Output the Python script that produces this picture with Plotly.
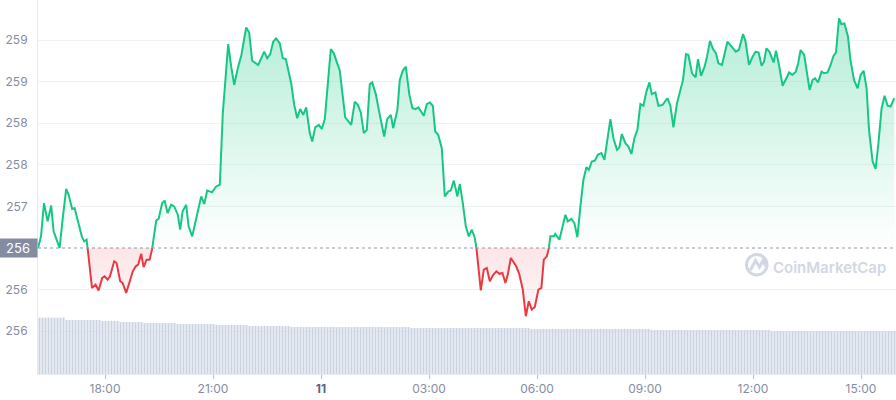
import pandas as pd
import plotly.graph_objects as go

# ---------------- data ----------------
start_time = "2023-06-10 16:08:20"

# minutes after start_time
minutes = [
    0, 5, 10, 16, 22, 26, 31, 36, 41, 47, 51, 57, 61, 66, 73, 77, 81, 83, 90, 96,
    101, 107, 111, 116, 120, 127, 131, 137, 141, 147, 153, 158, 163, 167, 172, 176, 181, 186, 190, 197,
    201, 207, 211, 216, 222, 227, 233, 237, 241, 247, 251, 257, 262, 268, 272, 277, 282, 286,
    290, 297, 303, 308, 317, 322, 327, 333, 339, 347, 352, 357, 367, 372, 377, 382, 387, 392, 397, 403,
    408, 413, 417, 422, 427, 432, 437, 442, 447, 453, 457, 462, 468, 473, 478, 483, 488, 493, 503, 512,
    517, 522, 528, 533, 538, 543, 548, 553, 557, 563, 568, 573,
    577, 582, 588, 592, 599, 603, 608, 613, 619, 624, 629, 634, 638, 643, 648, 653, 658, 662, 667, 673,
    678, 684, 688, 693, 699, 703, 708, 713, 718, 723, 728, 731, 738, 743, 748, 753, 759, 764, 769, 774,
    779, 783, 788, 797, 802, 808, 813, 818, 823, 828, 834, 839, 843, 848, 851, 854, 860,
    862, 869, 873, 879, 883, 889, 894, 899, 904, 909, 914, 918, 923, 928, 933, 939, 944, 948, 954, 959,
    965, 969, 973, 979, 984, 989, 994, 999, 1004, 1009, 1014, 1019, 1023, 1029, 1034, 1041, 1049, 1054, 1059, 1065,
    1071, 1075, 1080, 1084, 1090, 1096, 1100, 1105, 1111, 1115, 1120, 1125, 1130, 1134, 1140,
    1149, 1156, 1163, 1168, 1175, 1179, 1185, 1191, 1196, 1201, 1206, 1210, 1214, 1219, 1226, 1230, 1235, 1241, 1246, 1252,
    1257, 1263, 1267, 1271, 1277, 1282, 1286, 1291, 1295, 1300, 1306, 1310, 1316, 1321, 1326, 1330, 1335, 1339, 1344, 1350,
    1354, 1360, 1366, 1371, 1376, 1381, 1385, 1391, 1396, 1401, 1406, 1411, 1416, 1421, 1427,
]

prices = [
    256.50, 256.64, 257.04, 256.82, 257.01, 256.70, 256.60, 256.50, 256.84, 257.21,
    257.14, 256.97, 256.98, 256.84, 256.64, 256.58, 256.60, 256.48, 256.02, 256.06,
    255.99, 256.14, 256.16, 256.12, 256.16, 256.34, 256.32, 256.10, 256.08, 255.96,
    256.12, 256.22, 256.28, 256.30, 256.43, 256.27, 256.36, 256.36, 256.48, 256.83,
    256.85, 257.04, 257.07, 256.92, 257.02, 257.00, 256.90, 256.72, 256.94, 257.02,
    256.76, 256.64, 256.80, 257.02, 257.12, 257.03, 257.19, 257.18,
    257.17, 257.24, 257.26, 258.12, 258.95, 258.68, 258.46, 258.66, 258.82, 259.15,
    259.09, 258.75, 258.70, 258.78, 258.86, 258.78, 258.83, 258.98, 259.02, 258.96,
    258.78, 258.77, 258.62, 258.48, 258.22, 258.06, 258.17, 258.10, 258.19, 257.88,
    257.78, 257.95, 257.98, 257.93, 258.05, 258.52, 258.89, 258.84, 258.63, 258.07,
    258.03, 257.98, 258.26, 258.22, 258.13, 257.88, 257.92, 258.47, 258.49, 258.35,
    258.16, 257.97,
    257.84, 258.05, 258.10, 257.94, 258.16, 258.52, 258.63, 258.68, 258.34, 258.18,
    258.17, 258.19, 258.15, 258.09, 258.23, 258.25, 258.21, 257.90, 257.86, 257.70,
    257.12, 257.18, 257.19, 257.31, 257.12, 257.27, 257.04, 256.76, 256.64, 256.72,
    256.62, 256.48, 255.99, 256.24, 256.26, 256.10, 256.18, 256.22, 256.19, 256.20,
    256.08, 256.18, 256.38, 256.28, 256.19, 256.00, 255.68, 255.86, 255.76, 255.79,
    256.00, 256.02, 256.36, 256.40, 256.48, 256.64, 256.64,
    256.67, 256.60, 256.72, 256.90, 256.82, 256.85, 256.80, 256.63, 257.00, 257.32,
    257.47, 257.44, 257.54, 257.55, 257.62, 257.64, 257.56, 257.75, 258.05, 257.82,
    257.68, 257.71, 257.87, 257.76, 257.72, 257.63, 257.82, 257.92, 258.23, 258.21,
    258.38, 258.49, 258.35, 258.37, 258.21, 258.22, 258.30, 258.21, 257.95, 258.24,
    258.42, 258.52, 258.83, 258.82, 258.60, 258.55, 258.77, 258.57, 258.68, 258.80,
    258.99, 258.89, 258.84, 258.72, 258.70,
    258.98, 258.92, 258.86, 258.88, 259.07, 258.99, 258.70, 258.80, 258.86, 258.85,
    258.69, 258.74, 258.90, 258.86, 258.73, 258.87, 258.70, 258.45, 258.53, 258.61,
    258.58, 258.62, 258.72, 258.88, 258.82, 258.58, 258.40, 258.52, 258.54, 258.49,
    258.62, 258.60, 258.61, 258.70, 258.81, 258.85, 259.26, 259.19, 259.20, 259.04,
    258.76, 258.52, 258.42, 258.58, 258.63, 258.42, 257.92, 257.54, 257.45, 257.78,
    258.18, 258.33, 258.21, 258.20, 258.30,
]

# volume (5-minute bars), given as levels and how many consecutive bars hold each level
vol_levels = [563, 540, 530, 520, 510, 500, 490, 480, 470, 460, 450, 440, 430]
vol_runs = [9, 12, 6, 8, 11, 13, 11, 14, 40, 40, 40, 40, 42]

ytick_vals = [259.0, 258.5, 258.0, 257.5, 257.0, 256.0, 255.5]
ytick_text = ["259", "259", "258", "258", "257", "256", "256"]

xtick_times = ["2023-06-10 18:00", "2023-06-10 21:00", "2023-06-11 00:00", "2023-06-11 03:00",
               "2023-06-11 06:00", "2023-06-11 09:00", "2023-06-11 12:00", "2023-06-11 15:00"]
xtick_text = ["18:00", "21:00", '<span style="color:#58667e"><b>11</b></span>', "03:00",
              "06:00", "09:00", "12:00", "15:00"]

base_label = "256"
window_minutes = 1430

# ---------------- build ----------------
GREEN = "#16c784"
RED = "#ea3943"
GRID = "#eff2f5"
LABEL = "#858ca2"

base = prices[0]
t0 = pd.Timestamp(start_time)

# insert baseline crossings so colours switch exactly on the baseline
m_all, p_all = [], []
for i, (m, p) in enumerate(zip(minutes, prices)):
    if i > 0:
        m0, p0 = minutes[i - 1], prices[i - 1]
        if (p0 - base) * (p - base) < 0:
            mc = m0 + (base - p0) / (p - p0) * (m - m0)
            m_all.append(mc)
            p_all.append(base)
    m_all.append(m)
    p_all.append(p)

x_all = [t0 + pd.Timedelta(minutes=m) for m in m_all]
green_fill = [max(p, base) for p in p_all]
red_fill = [min(p, base) for p in p_all]
green_line = [p if p >= base else None for p in p_all]
red_line = [p if p <= base else None for p in p_all]
base_arr = [base] * len(p_all)

volume = []
for lvl, n in zip(vol_levels, vol_runs):
    volume += [lvl] * n
vol_times = pd.date_range(t0 + pd.Timedelta(minutes=2.5), periods=len(volume), freq="5min")

fig = go.Figure()

fig.add_trace(go.Bar(x=vol_times, y=volume, yaxis="y2", marker_color="#cbd2e1",
                     marker_line_width=0, hoverinfo="skip", showlegend=False))

fig.add_trace(go.Scatter(x=x_all, y=base_arr, mode="lines", line=dict(width=0),
                         hoverinfo="skip", showlegend=False))
fig.add_trace(go.Scatter(x=x_all, y=green_fill, mode="lines", line=dict(width=0),
                         fill="tonexty",
                         fillgradient=dict(type="vertical",
                                           colorscale=[[0, "rgba(22,199,132,0.0)"],
                                                       [1, "rgba(22,199,132,0.32)"]]),
                         hoverinfo="skip", showlegend=False))
fig.add_trace(go.Scatter(x=x_all, y=base_arr, mode="lines", line=dict(width=0),
                         hoverinfo="skip", showlegend=False))
fig.add_trace(go.Scatter(x=x_all, y=red_fill, mode="lines", line=dict(width=0),
                         fill="tonexty",
                         fillgradient=dict(type="vertical",
                                           colorscale=[[0, "rgba(234,57,67,0.03)"],
                                                       [1, "rgba(234,57,67,0.13)"]]),
                         hoverinfo="skip", showlegend=False))

fig.add_trace(go.Scatter(x=x_all, y=green_line, mode="lines", connectgaps=False,
                         line=dict(color=GREEN, width=2), showlegend=False))
fig.add_trace(go.Scatter(x=x_all, y=red_line, mode="lines", connectgaps=False,
                         line=dict(color=RED, width=2), showlegend=False))

# dotted baseline
fig.add_shape(type="line", xref="paper", x0=0, x1=1, yref="y", y0=base, y1=base,
              line=dict(color="#8f96a8", width=1, dash="dot"), layer="above")

# baseline label
fig.add_annotation(x=0, xref="paper", xanchor="right", y=base, yref="y", yanchor="middle",
                   text=base_label,
                   showarrow=False, font=dict(color="white", size=13, family="Inter"),
                   bgcolor="#858ca2", width=34, height=14, borderpad=2, align="center")

# watermark (pixel positions converted to paper coordinates)
def px(x):
    return (x - 38) / 858


def py(y):
    return (374 - y) / 374


WM = "#d1d7e3"
fig.add_shape(type="circle", xref="paper", yref="paper",
              x0=px(746.5), x1=px(767), y0=py(275), y1=py(254.5),
              line=dict(color=WM, width=3))
wave = [(750.5, 270), (755.5, 260.5), (759.5, 267), (763, 260.5), (765.5, 266)]
path = "M " + " L ".join(f"{px(a):.5f},{py(b):.5f}" for a, b in wave)
fig.add_shape(type="path", xref="paper", yref="paper", path=path,
              line=dict(color=WM, width=3))
fig.add_annotation(x=px(829.5), y=py(267), xref="paper", yref="paper", text="CoinMarketCap",
                   xanchor="center", yanchor="middle",
                   showarrow=False, font=dict(color=WM, size=15, family="Inter", weight=600))

fig.update_layout(
    width=896, height=400,
    margin=dict(l=38, r=0, t=0, b=26),
    paper_bgcolor="white", plot_bgcolor="white",
    bargap=0.33,
    hovermode=False,
    showlegend=False,
    font=dict(family="Inter", size=12, color=LABEL),
    xaxis=dict(
        type="date",
        range=[t0, t0 + pd.Timedelta(minutes=window_minutes)],
        showgrid=False, zeroline=False,
        showline=True, linecolor="#e6e9ef", linewidth=1,
        ticks="outside", ticklen=4, tickcolor="#b7bdc9",
        tickvals=xtick_times, ticktext=xtick_text,
        tickfont=dict(size=12, color=LABEL, family="Inter"),
    ),
    yaxis=dict(
        range=[254.9856, 259.4808],
        tickvals=ytick_vals, ticktext=ytick_text,
        showgrid=True, gridcolor=GRID, gridwidth=1,
        zeroline=False,
        showline=True, linecolor="#e6e9ef", linewidth=1,
        ticks="outside", ticklen=7, tickcolor="rgba(0,0,0,0)",
        tickfont=dict(size=12, color=LABEL, family="Inter"),
        fixedrange=True,
    ),
    yaxis2=dict(overlaying="y", range=[0, 3740], visible=False, fixedrange=True),
)

fig.write_html("out.html", config={"displayModeBar": False})
